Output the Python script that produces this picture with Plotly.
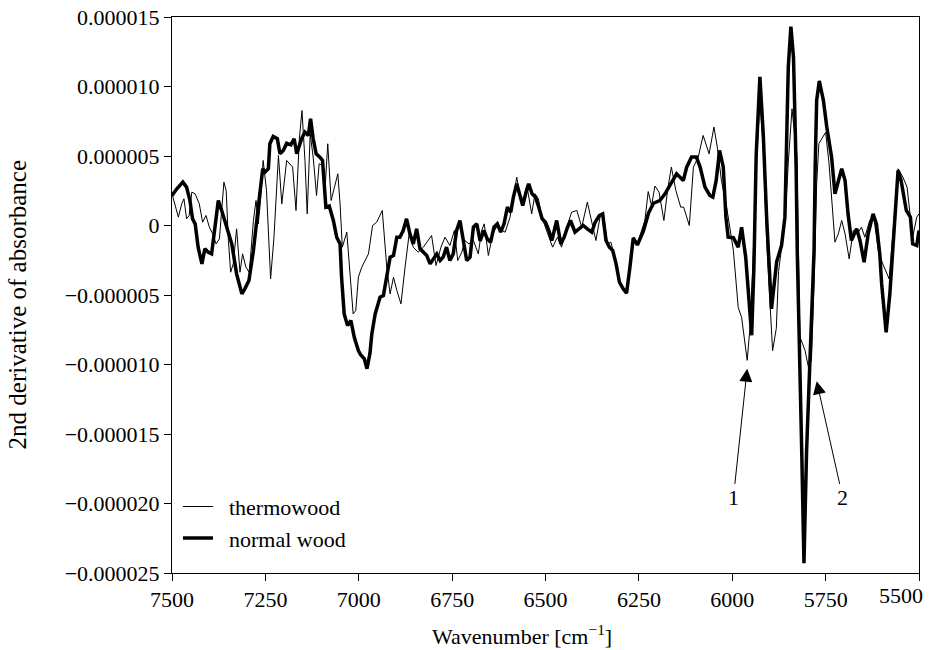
import plotly.graph_objects as go

# ---- data (wavenumber in cm^-1, 2nd derivative in units of 1e-6) ----
normal_wn = [7500, 7487, 7471, 7461, 7452, 7445, 7438, 7430, 7420, 7412, 7403, 7394, 7385, 7376, 7367, 7354,
             7340, 7327, 7313, 7305, 7294, 7282, 7273, 7266, 7257, 7251, 7242, 7238, 7229, 7218, 7211, 7202,
             7193, 7182, 7173, 7166, 7153, 7144, 7135, 7129, 7122, 7114, 7104, 7097, 7088, 7079, 7068, 7059,
             7050, 7046, 7039, 7030, 7021, 7012, 7001, 6995, 6985, 6978, 6970, 6965, 6956, 6943, 6934, 6925,
             6916, 6907, 6898, 6890, 6881, 6872, 6863, 6854, 6845, 6836, 6827, 6818, 6809, 6800, 6791, 6782,
             6774, 6765, 6756, 6747, 6738, 6729, 6720, 6711, 6702, 6693, 6684, 6675, 6665, 6656, 6647, 6638,
             6629, 6620, 6611, 6602, 6593, 6586, 6577, 6570, 6561, 6552, 6545, 6536, 6527, 6518, 6509, 6500,
             6491, 6483, 6470, 6459, 6450, 6441, 6433, 6421, 6409, 6399, 6388, 6376, 6367, 6356, 6347, 6338,
             6329, 6320, 6311, 6302, 6292, 6283, 6274, 6265, 6254, 6238, 6224, 6211, 6194, 6180, 6167, 6149,
             6131, 6122, 6109, 6096, 6086, 6073, 6060, 6052, 6043, 6034, 6024, 6017, 6011, 5997, 5984, 5975,
             5964, 5948, 5942, 5936, 5926, 5917, 5908, 5901, 5895, 5881, 5868, 5859, 5854, 5850, 5843, 5836,
             5829, 5826, 5814, 5808, 5801, 5792, 5781, 5778, 5774, 5767, 5756, 5747, 5734, 5725, 5707, 5698,
             5690, 5681, 5667, 5658, 5647, 5636, 5623, 5614, 5605, 5600, 5588, 5578, 5570, 5566, 5556, 5548,
             5534, 5523, 5517, 5506, 5500]
normal_val = [2.16, 2.64, 3.12, 2.76, 1.8, 0.48, 0.12, -1.56, -2.76, -1.68, -1.92, -2.04, -0.12, 1.8, 1.08, -0.12,
              -1.32, -3.48, -4.92, -4.56, -3.96, -1.8, 0.12, 2.04, 4.08, 3.84, 4.08, 5.88, 6.4, 6.24, 5.16, 5.4,
              5.92, 5.8, 6.24, 5.16, 6.24, 6.72, 6.48, 7.68, 6.24, 5.16, 4.92, 4.68, 1.32, 1.4, 0.36, -0.84,
              -1.32, -3.72, -6.36, -7.2, -6.84, -8.04, -9.0, -9.3, -9.6, -10.3, -9.2, -7.8, -6.36, -5.16, -5.04, -3.48,
              -2.28, -2.16, -0.84, -0.84, -0.36, 0.48, -0.6, -1.32, -0.24, -1.68, -1.92, -2.16, -2.76, -2.4, -2.04, -2.52,
              -2.28, -1.56, -2.52, -2.04, -0.36, 0.36, -1.08, -2.52, -2.28, -0.12, 0.12, -1.1, -0.36, -0.96, -1.2, -0.12,
              0.12, -0.48, 0.12, 1.32, 0.96, 2.04, 3.0, 2.4, 1.44, 2.4, 3.0, 2.28, 2.04, 1.32, 0.48, 0.24,
              -0.36, -1.08, 0.36, -1.32, -0.84, -0.12, 0.36, -0.48, -0.24, 0.0, -0.24, -0.48, 0.24, 0.72, 0.84, -1.08,
              -1.56, -1.8, -2.76, -4.08, -4.56, -4.87, -3.0, -0.9, -1.4, -0.4, 0.9, 1.6, 1.8, 2.28, 2.88, 3.72,
              3.24, 4.2, 4.92, 4.92, 4.2, 2.76, 2.16, 2.04, 3.24, 5.4, 4.2, 0.6, -0.84, -0.88, -1.56, -0.12,
              -2.28, -7.9, -3.0, 5.0, 10.7, 6.6, 0.6, -3.5, -6.0, -2.6, -1.44, 0.6, 5.4, 11.4, 14.3, 12.1,
              4.2, -1.8, -16.2, -24.3, -16.2, -9.0, -1.8, 4.2, 9.0, 10.4, 9.0, 7.1, 4.92, 2.28, 4.08, 3.24,
              0.84, -1.08, -0.24, -1.08, -2.64, -0.6, 0.84, 0.12, -2.04, -4.2, -7.68, -4.9, -1.8, -0.6, 3.96, 3.24,
              1.08, 0.6, -1.32, -1.44, -0.36]

thermo_wn = [7500, 7492, 7483, 7474, 7468, 7461, 7454, 7447, 7438, 7427, 7418, 7409, 7400, 7391, 7382, 7373,
             7367, 7361, 7355, 7349, 7343, 7336, 7327, 7318, 7311, 7302, 7293, 7282, 7275, 7269, 7263, 7256,
             7247, 7236, 7227, 7215, 7206, 7193, 7177, 7168, 7159, 7152, 7144, 7138, 7130, 7122, 7113, 7106,
             7097, 7090, 7083, 7074, 7065, 7056, 7050, 7044, 7032, 7023, 7015, 7008, 7001, 6992, 6983, 6974,
             6963, 6952, 6937, 6925, 6916, 6907, 6898, 6887, 6876, 6865, 6854, 6841, 6827, 6818, 6805, 6793,
             6780, 6769, 6756, 6744, 6735, 6724, 6716, 6705, 6693, 6680, 6671, 6664, 6653, 6641, 6629, 6617,
             6608, 6595, 6586, 6577, 6568, 6559, 6550, 6537, 6528, 6519, 6510, 6497, 6481, 6468, 6457, 6443,
             6430, 6416, 6403, 6388, 6376, 6365, 6354, 6345, 6334, 6325, 6314, 6301, 6283, 6263, 6254, 6240,
             6234, 6225, 6216, 6207, 6196, 6183, 6172, 6163, 6151, 6138, 6130, 6115, 6104, 6091, 6078, 6062,
             6049, 6040, 6029, 6015, 6002, 5997, 5984, 5975, 5960, 5953, 5945, 5936, 5926, 5917, 5908, 5901,
             5892, 5882, 5876, 5867, 5858, 5850, 5840, 5827, 5819, 5805, 5796, 5788, 5781, 5774, 5768, 5750,
             5741, 5725, 5716, 5707, 5698, 5687, 5676, 5665, 5654, 5645, 5632, 5621, 5609, 5597, 5580, 5570,
             5556, 5543, 5532, 5523, 5516, 5506, 5500]
thermo_val = [2.28, 1.56, 0.6, 1.56, 1.92, 0.48, 0.72, 2.4, 2.28, 1.56, 0.24, 0.72, -0.12, -0.6, -1.32, -0.96,
              1.08, 3.12, 2.52, -1.08, -3.36, -2.76, -0.24, -3.36, -2.04, -3.0, -3.36, 0.36, 1.8, 0.12, 1.8, 4.68,
              2.52, -3.84, -0.84, 5.04, 1.56, 4.68, 4.2, 1.08, 6.24, 8.27, 4.68, 0.84, 6.6, 4.92, 2.16, 4.44,
              4.32, 2.76, 5.88, 1.8, 2.76, 3.72, 1.56, -1.56, -0.48, -3.48, -6.36, -6.12, -3.72, -3.0, -2.52, -2.04,
              0.0, 0.24, 1.08, -3.0, -4.92, -3.72, -4.68, -5.64, -3.0, -0.6, -1.56, -1.92, -1.56, -1.2, -0.72, -2.88,
              -1.56, -0.84, -1.44, -0.36, -2.52, -1.92, -1.08, -1.32, -1.08, -2.04, -0.36, 0.12, -2.16, -0.6, 0.0, -0.36,
              -0.48, 0.6, 1.92, 3.48, 2.04, 1.92, 2.88, 0.84, 2.28, 1.92, 0.6, -0.36, -1.56, -0.84, -1.56, -0.12,
              0.96, 1.08, -0.12, 1.68, 0.12, -1.08, 0.6, 0.84, -1.32, -1.2, -2.4, -4.2, -4.8, -0.84, -1.3, -0.2,
              0.36, 2.44, 1.43, 2.84, 2.4, 0.36, 2.76, 4.2, 2.52, 1.32, 1.32, 0.0, 4.2, 4.92, 6.48, 5.16,
              7.08, 5.64, 3.24, 1.32, -1.08, -1.8, -5.9, -6.6, -9.7, -7.5, -3.0, 4.0, 9.0, 5.5, -1.0, -5.0,
              -9.0, -7.4, -3.3, -1.4, 0.6, 4.5, 8.4, 5.0, -8.0, -9.0, -10.2, -9.7, -4.2, 3.0, 5.9, 6.7,
              4.5, -1.2, -0.6, 0.36, -0.6, -2.4, -0.36, -0.6, -0.12, -0.84, 0.36, 0.6, -1.8, -2.76, -3.84, -0.6,
              4.08, 3.48, 2.76, 0.6, -0.72, 0.6, 0.84]

y_tick_vals = [15e-6, 10e-6, 5e-6, 0, -5e-6, -10e-6, -15e-6, -20e-6, -25e-6]
y_tick_text = ["0.000015", "0.000010", "0.000005", "0", "\u22120.000005", "\u22120.000010",
               "\u22120.000015", "\u22120.000020", "\u22120.000025"]
x_tick_vals = [7500, 7250, 7000, 6750, 6500, 6250, 6000, 5750, 5500]
x_tick_text = ["7500", "7250", "7000", "6750", "6500", "6250", "6000", "5750", ""]
last_tick_label = "5500"

# annotation positions (wavenumber, value*1e-6): arrow tip and label
ann_labels = ["1", "2"]
ann_tip_wn = [5960, 5774]
ann_tip_val = [-10.3, -11.2]
ann_txt_wn = [5997, 5704]
ann_txt_val = [-19.6, -19.6]

FONT = "Liberation Serif, Times New Roman, serif"
TXT = dict(family=FONT, size=22, color="black")

fig = go.Figure()
fig.add_trace(go.Scatter(x=thermo_wn, y=[v * 1e-6 for v in thermo_val], mode="lines",
                         name="\u00a0\u00a0thermowood", line=dict(color="black", width=1)))
fig.add_trace(go.Scatter(x=normal_wn, y=[v * 1e-6 for v in normal_val], mode="lines",
                         name="\u00a0\u00a0normal wood", line=dict(color="black", width=3.5)))

for lab, tx, ty, ax, ay in zip(ann_labels, ann_tip_wn, ann_tip_val, ann_txt_wn, ann_txt_val):
    fig.add_annotation(x=tx, y=ty * 1e-6, ax=ax, ay=ay * 1e-6, axref="x", ayref="y",
                       text=lab, showarrow=True, arrowhead=2, arrowsize=2.6, arrowwidth=1,
                       arrowcolor="black", font=TXT)

# last x tick label, right-aligned so it stays inside the page (as in the original)
fig.add_annotation(x=x_tick_vals[-1], xref="x", y=0, yref="paper", yanchor="top", xanchor="right",
                   xshift=6, yshift=-8, text=last_tick_label, showarrow=False, font=TXT)
# axis titles
fig.add_annotation(x=0.468, xref="paper", y=-0.111, yref="paper", yanchor="middle", xanchor="center",
                   text="Wavenumber [cm<sup>\u22121</sup>]", showarrow=False, font=TXT)
fig.add_annotation(x=-0.2075, xref="paper", y=0.483, yref="paper", yanchor="middle", xanchor="center",
                   text="2nd derivative of absorbance", textangle=-90, showarrow=False,
                   font=dict(family=FONT, size=25, color="black"))

fig.update_layout(
    width=930, height=650,
    margin=dict(l=172, r=11, t=17, b=77),
    paper_bgcolor="white", plot_bgcolor="white",
    font=TXT,
    showlegend=True,
    legend=dict(x=0.008, y=0.157, xanchor="left", yanchor="top", bgcolor="rgba(0,0,0,0)", font=TXT),
)
fig.update_xaxes(range=[7500, 5500], tickvals=x_tick_vals, ticktext=x_tick_text, ticks="outside", ticklen=7,
                 tickcolor="black", showline=True, linecolor="black", linewidth=1, mirror=True,
                 showgrid=False, zeroline=False, automargin=False)
fig.update_yaxes(range=[-25e-6, 15e-6], tickvals=y_tick_vals, ticktext=y_tick_text, ticks="outside",
                 ticklen=7, tickcolor="black", showline=True, linecolor="black", linewidth=1, mirror=True,
                 showgrid=False, zeroline=False, automargin=False)

fig.write_html("out.html", config={"displayModeBar": False},
               post_script="document.body.style.margin='0';document.body.style.overflow='hidden';")
